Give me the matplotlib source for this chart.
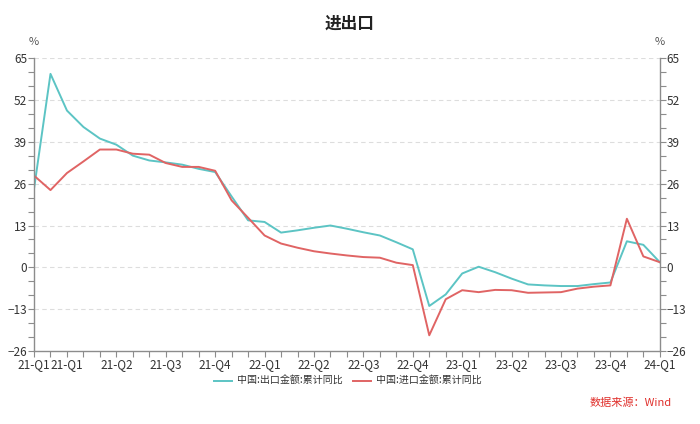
import matplotlib
matplotlib.use("Agg")
import matplotlib.pyplot as plt
from matplotlib.ticker import MultipleLocator, FixedLocator

plt.rcParams['font.family'] = ['Noto Sans CJK SC', 'DejaVu Sans']

# monthly cumulative yoy, 2021-01 .. 2024-03
export_yoy = [24.4, 60.1, 48.7, 43.6, 40.0, 38.1, 34.7, 33.2, 32.6, 31.9, 30.6, 29.6,
              22.0, 14.6, 14.1, 10.8, 11.5, 12.3, 13.0, 12.0, 10.9, 9.9, 7.8, 5.6,
              -12.0, -8.4, -1.9, 0.2, -1.5, -3.5, -5.3, -5.6, -5.8, -5.8, -5.2, -4.7,
              8.1, 7.0, 1.6]
import_yoy = [28.5, 24.0, 29.3, 32.9, 36.6, 36.6, 35.3, 35.0, 32.4, 31.2, 31.2, 30.0,
              20.8, 15.4, 9.9, 7.4, 6.1, 5.0, 4.3, 3.7, 3.2, 3.0, 1.45, 0.7,
              -21.1, -9.9, -7.1, -7.7, -7.0, -7.1, -7.9, -7.8, -7.7, -6.6, -6.0, -5.6,
              15.1, 3.4, 1.6]
tick_idx = [0, 2, 5, 8, 11, 14, 17, 20, 23, 26, 29, 32, 35, 38]
tick_labels = ["21-Q1", "21-Q1", "21-Q2", "21-Q3", "21-Q4", "22-Q1", "22-Q2", "22-Q3",
               "22-Q4", "23-Q1", "23-Q2", "23-Q3", "23-Q4", "24-Q1"]

c_exp = "#5CC4C4"
c_imp = "#E06464"
grey = "#8C8C8C"
txt = "#333333"

fig = plt.figure(figsize=(7, 4.24), dpi=100)
ax = fig.add_axes([0.0486, 0.172, 0.894, 0.691])
x = list(range(len(export_yoy)))
ax.plot(x, export_yoy, color=c_exp, lw=1.4, label="中国:出口金额:累计同比")
ax.plot(x, import_yoy, color=c_imp, lw=1.4, label="中国:进口金额:累计同比")

ax.set_xlim(0, len(x) - 1)
ax.set_ylim(-26, 65)
yt = list(range(-26, 66, 13))
ax.yaxis.set_major_locator(FixedLocator(yt))
ax.yaxis.set_minor_locator(MultipleLocator(13 / 3))
ax.xaxis.set_major_locator(FixedLocator(tick_idx))
ax.xaxis.set_minor_locator(MultipleLocator(1))
ax.set_xticklabels(tick_labels)
for g in yt[1:]:
    ax.axhline(g, color="#DDDDDD", lw=0.8, ls=(0, (4, 3)), zorder=0)

ax2 = ax.twinx()
ax2.set_ylim(-26, 65)
ax2.yaxis.set_major_locator(FixedLocator(yt))
ax2.yaxis.set_minor_locator(MultipleLocator(13 / 3))

for a in (ax, ax2):
    a.spines["top"].set_visible(False)
    for s in ("left", "right", "bottom"):
        a.spines[s].set_color(grey)
        a.spines[s].set_linewidth(1.0)
    a.tick_params(which="both", color=grey, length=4, width=0.8, labelsize=8.5, labelcolor=txt, pad=1)
ax.spines["right"].set_visible(False)
ax2.spines["left"].set_visible(False)
ax2.spines["bottom"].set_visible(False)

fig.text(0.5, 0.945, "进出口", ha="center", va="center", fontsize=12, fontweight="bold", color="#222222")
fig.text(0.0486, 0.9, "%", ha="center", va="center", fontsize=8, color="#555555")
fig.text(0.943, 0.9, "%", ha="center", va="center", fontsize=8, color="#555555")

ax.legend(loc="center", bbox_to_anchor=(0.497, 0.101), bbox_transform=fig.transFigure, ncol=2,
          frameon=False, fontsize=7.2, handlelength=1.8, handletextpad=0.5, columnspacing=1.1,
          labelcolor=txt)
fig.text(0.96, 0.05, "数据来源：Wind", ha="right", va="center", fontsize=8, color="#E0302C")

fig.savefig("out.png", dpi=100)
